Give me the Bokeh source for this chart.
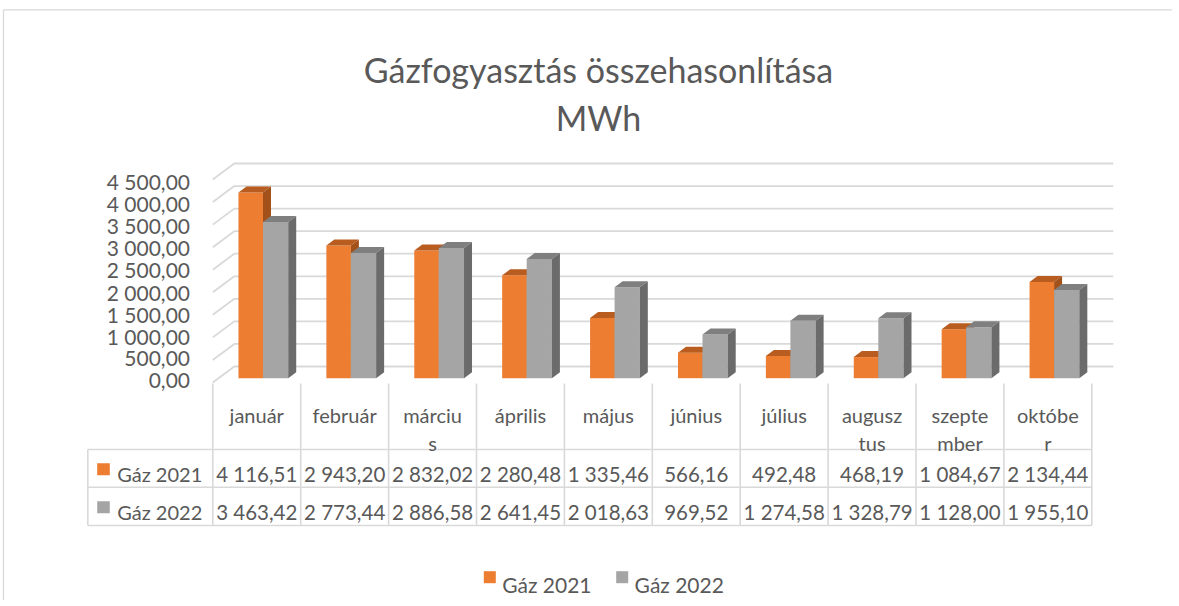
from bokeh.plotting import figure
from bokeh.models import Range1d
from bokeh.embed import file_html
from bokeh.resources import INLINE
from bokeh.core.properties import value

# ---------------- data ----------------
months = ["január", "február", "március", "április", "május", "június",
          "július", "augusztus", "szeptember", "október"]
month_labels = ["január", "február", "márciu\ns", "április", "május", "június",
                "július", "augusz\ntus", "szepte\nmber", "októbe\nr"]
series_names = ["Gáz 2021", "Gáz 2022"]
gas_2021 = [4116.51, 2943.20, 2832.02, 2280.48, 1335.46, 566.16, 492.48, 468.19, 1084.67, 2134.44]
gas_2022 = [3463.42, 2773.44, 2886.58, 2641.45, 2018.63, 969.52, 1274.58, 1328.79, 1128.00, 1955.10]
y_ticks = [0, 500, 1000, 1500, 2000, 2500, 3000, 3500, 4000, 4500]
title_lines = ["Gázfogyasztás összehasonlítása", "MWh"]

# ---------------- style ----------------
FONT = value("Lato")
TXT = "#595959"
GRID = "#d9d9d9"
front_col = ["#ED7D31", "#A5A5A5"]
top_col = ["#B95C1F", "#7F7F7F"]
side_col = ["#A3511A", "#6B6B6B"]


def hu(v):
    return f"{v:,.2f}".replace(",", " ").replace(".", ",")


# ---------------- layout (pixels in figure) ----------------
W, H = 1172, 600
COL0, COLW = 212.3, 87.9          # left edge of first category column, column width
BASE = 377.7                      # pixel row of value 0 (bar base)
PPU = 203.0 / 4500.0              # pixels per MWh

p = figure(width=W, height=H, x_range=Range1d(0, W), y_range=Range1d(H, 0),
           output_backend="svg", toolbar_location=None, min_border=0,
           x_axis_type=None, y_axis_type=None, outline_line_color=None,
           background_fill_color="white", border_fill_color="white")
p.grid.visible = False
p.extra_x_ranges = {"cat": Range1d(-COL0 / COLW, (W - COL0) / COLW)}
p.extra_y_ranges = {"val": Range1d((BASE - H) / PPU, BASE / PPU)}

# chart border
p.segment(x0=[3.0, 3.0], y0=[9.3, 9.3], x1=[W, 3.0], y1=[9.3, H], line_color=GRID, line_width=1.3)

# ---------------- back wall gridlines ----------------
WDX = 21.5 / COLW                 # wall depth in category units
FRONT_OFF = -4.3 / PPU
BACK_OFF = 11.7 / PPU
gx = [[0, WDX, len(months) + WDX] for _ in y_ticks]
gy = [[t + FRONT_OFF, t + BACK_OFF, t + BACK_OFF] for t in y_ticks]
p.multi_line(xs=gx, ys=gy, line_color=GRID, line_width=1.8,
             x_range_name="cat", y_range_name="val")

# ---------------- 3D bars ----------------
BDX = 8.0 / COLW
BDY = 6.0 / PPU
offsets = [(0.292, 0.571), (0.571, 0.858)]
for s, vals in enumerate([gas_2021, gas_2022]):
    a, b = offsets[s]
    L = [i + a for i in range(len(vals))]
    R = [i + b for i in range(len(vals))]
    p.quad(left=L, right=R, bottom=0, top=vals, fill_color=front_col[s], line_color=None,
           x_range_name="cat", y_range_name="val")
    p.patches(xs=[[l, r, r + BDX, l + BDX] for l, r in zip(L, R)],
              ys=[[v, v, v + BDY, v + BDY] for v in vals],
              fill_color=top_col[s], line_color=None,
              x_range_name="cat", y_range_name="val")
    p.patches(xs=[[r, r + BDX, r + BDX, r] for r in R],
              ys=[[v, v + BDY, BDY, 0] for v in vals],
              fill_color=side_col[s], line_color=None,
              x_range_name="cat", y_range_name="val")

# ---------------- value axis labels ----------------
p.text(x=[189.5] * len(y_ticks), y=[t * 0.98 - 51 for t in y_ticks],
       text=[hu(t) for t in y_ticks], y_range_name="val",
       text_align="right", text_baseline="middle", text_font=FONT,
       text_font_size="21px", text_color=TXT)

# ---------------- data table ----------------
n = len(months)
TOP_Y, R1, R2, R3 = 383.0, 449.0, 486.8, 525.0
LEFT_X = (87.3 - COL0) / COLW
# vertical lines of category columns
p.segment(x0=list(range(n + 1)), x1=list(range(n + 1)), y0=[TOP_Y] * (n + 1), y1=[R3] * (n + 1),
          line_color=GRID, line_width=1.6, x_range_name="cat")
# horizontal lines + left border
p.segment(x0=[LEFT_X] * 3 + [LEFT_X], x1=[n] * 3 + [LEFT_X],
          y0=[R1, R2, R3, R1], y1=[R1, R2, R3, R3],
          line_color=GRID, line_width=1.6, x_range_name="cat")

line1 = [m.split("\n")[0] for m in month_labels]
line2 = [m.split("\n")[1] if "\n" in m else "" for m in month_labels]
cx = [i + 0.5 for i in range(n)]
p.text(x=cx, y=[414.0] * n, text=line1, x_range_name="cat", text_align="center",
       text_baseline="alphabetic", text_font=FONT, text_font_size="20px", text_color=TXT)
p.text(x=cx, y=[442.7] * n, text=line2, x_range_name="cat", text_align="center",
       text_baseline="alphabetic", text_font=FONT, text_font_size="20px", text_color=TXT)

for s, vals in enumerate([gas_2021, gas_2022]):
    base_y = [473.5, 511.5][s]
    p.text(x=cx, y=[base_y] * n, text=[hu(v) for v in vals], x_range_name="cat",
           text_align="center", text_baseline="alphabetic", text_font=FONT,
           text_font_size="20.5px", text_color=TXT)
    p.rect(x=[103.0], y=[base_y - 4.8], width=12.6, height=12, fill_color=front_col[s], line_color=None)
    p.text(x=[116.7], y=[base_y], text=[series_names[s]], text_align="left",
           text_baseline="alphabetic", text_font=FONT, text_font_size="20px", text_color=TXT)

# ---------------- legend ----------------
leg_sq = [489.3, 621.7]
for s in range(2):
    p.rect(x=[leg_sq[s]], y=[576.7], width=12, height=12, fill_color=front_col[s], line_color=None)
    p.text(x=[leg_sq[s] + 12.4], y=[583.5], text=[series_names[s]], text_align="left",
           text_baseline="alphabetic", text_font=FONT, text_font_size="21px", text_color=TXT)

# ---------------- title ----------------
p.text(x=[598, 598], y=[69.3, 117.3], text=title_lines, text_align="center",
       text_baseline="alphabetic", text_font=FONT, text_font_size="34px", text_color=TXT)

open("out.html", "w").write(file_html(p, INLINE))
